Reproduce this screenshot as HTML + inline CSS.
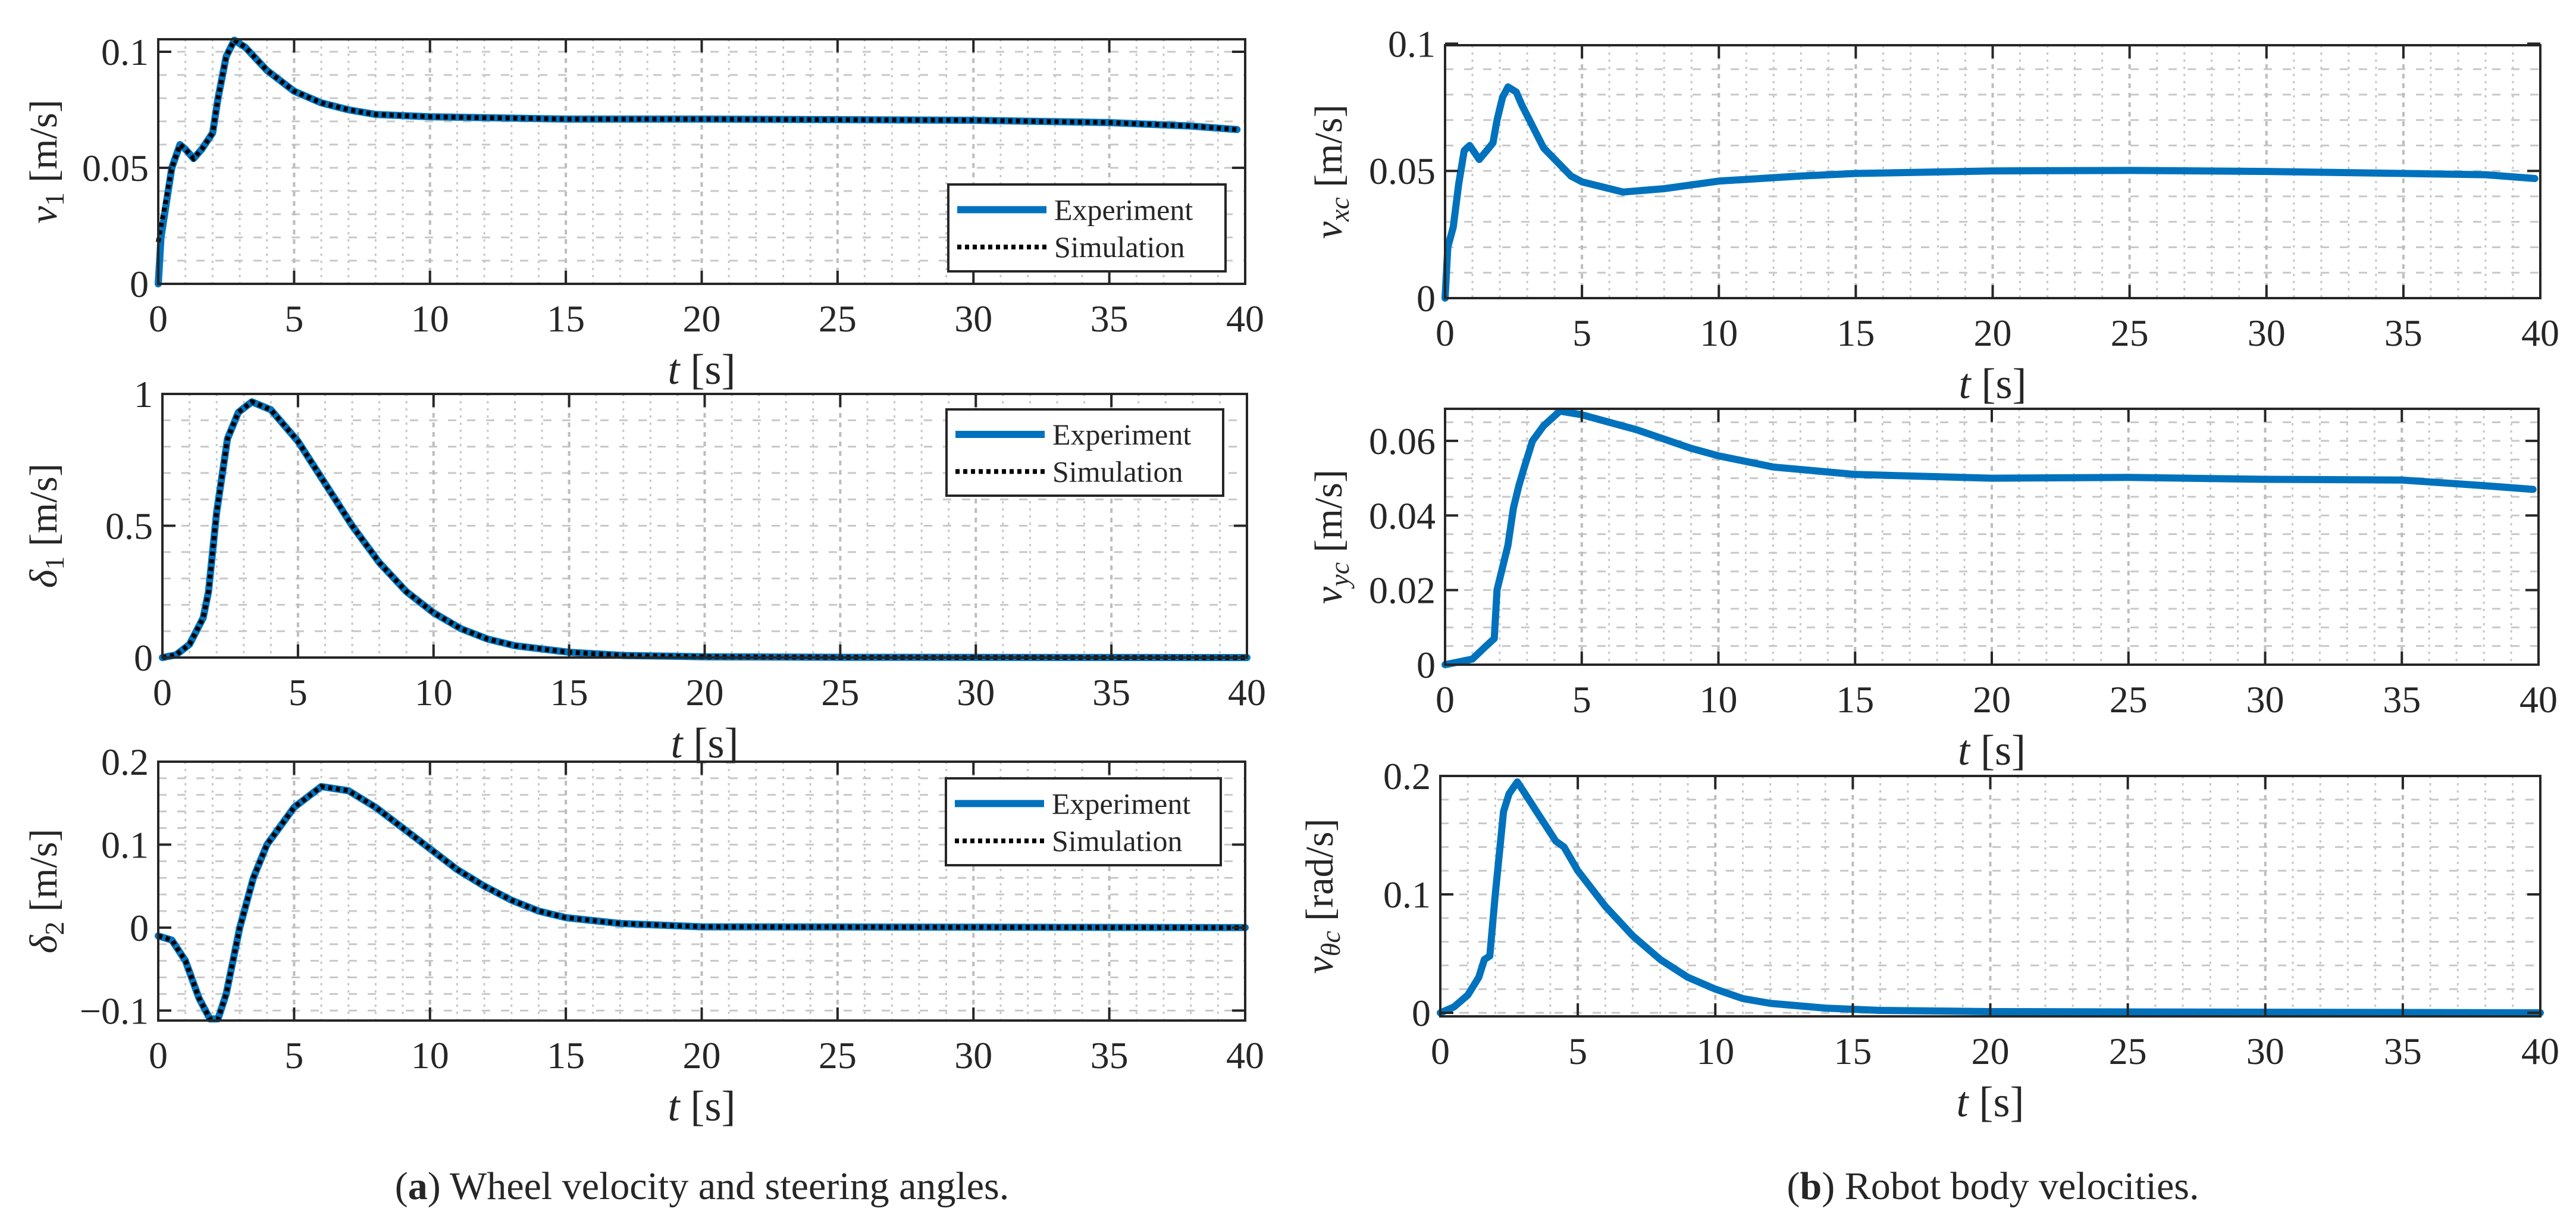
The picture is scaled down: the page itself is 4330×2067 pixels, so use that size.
<!DOCTYPE html>
<html><head><meta charset="utf-8"><style>
html,body{margin:0;padding:0;background:#fff;}
svg{display:block;}
text{font-family:"Liberation Serif",serif;fill:#262626;}
</style></head>
<body>
<svg id="fig" width="4330" height="2067" viewBox="0 0 4330 2067" xmlns="http://www.w3.org/2000/svg">
<rect width="4330" height="2067" fill="#fff"/>
<text x="1180" y="2015" font-size="66" text-anchor="middle">(<tspan font-weight="bold">a</tspan>) Wheel velocity and steering angles.</text>
<text x="3350" y="2015" font-size="66" text-anchor="middle">(<tspan font-weight="bold">b</tspan>) Robot body velocities.</text>
</svg>
<script>
// ---- data ----
const v1T   = [0,0.1,0.3,0.5,0.8,1.0,1.3,1.6,2.0,2.2,2.5,2.8,3.2,4,5,6,7,8,10,15,20,30,35,38,39.7];
const v1Exp = [0,0.02,0.035,0.05,0.06,0.058,0.054,0.058,0.065,0.08,0.098,0.105,0.102,0.092,0.083,0.078,0.075,0.073,0.072,0.071,0.071,0.0705,0.0695,0.068,0.0665];
const v1Sim = [0.018,0.025,0.037,0.05,0.06,0.058,0.054,0.058,0.065,0.08,0.098,0.105,0.102,0.092,0.083,0.078,0.075,0.073,0.072,0.071,0.071,0.0705,0.0695,0.068,0.0665];
const d1T   = [0,0.5,1,1.5,1.7,2,2.4,2.8,3.3,4,5,6,7,8,9,10,11,12,13,15,17,20,25,40];
const d1Exp = [0,0.01,0.05,0.15,0.25,0.55,0.83,0.93,0.97,0.94,0.82,0.66,0.5,0.36,0.25,0.17,0.11,0.07,0.045,0.02,0.008,0.003,0.001,0];
const d1Sim = [0,0.01,0.05,0.15,0.25,0.55,0.83,0.93,0.97,0.94,0.82,0.66,0.5,0.36,0.25,0.17,0.11,0.07,0.045,0.02,0.008,0.003,0.001,0];
const d2T   = [0,0.5,1,1.5,1.9,2.2,2.5,3,3.5,4,5,6,7,8,9,10,11,12,13,14,15,17,20,40];
const d2Exp = [-0.01,-0.015,-0.04,-0.085,-0.11,-0.11,-0.08,0,0.06,0.1,0.145,0.17,0.165,0.145,0.12,0.095,0.07,0.05,0.033,0.02,0.012,0.005,0.001,0];
const d2Sim = [-0.01,-0.015,-0.04,-0.085,-0.11,-0.11,-0.08,0,0.06,0.1,0.145,0.17,0.165,0.145,0.12,0.095,0.07,0.05,0.033,0.02,0.012,0.005,0.001,0];
const vxT   = [0,0.1,0.3,0.5,0.7,0.9,1.25,1.6,1.75,1.9,2.1,2.3,2.6,2.8,3.6,4.6,5,6.5,8,10,13,15,20,25,30,35,38,39.8];
const vxExp = [0,0.02,0.028,0.045,0.058,0.06,0.0545,0.059,0.061,0.07,0.079,0.083,0.081,0.076,0.059,0.048,0.0457,0.0417,0.043,0.046,0.048,0.049,0.05,0.0502,0.0498,0.049,0.0485,0.047];
const vyT   = [0,1,1.5,1.8,1.9,2.3,2.5,2.7,2.9,3.2,3.6,4.2,5,7,9,10,12,15,20,25,30,35,38,39.8];
const vyExp = [0,0.0015,0.005,0.007,0.02,0.032,0.042,0.048,0.053,0.06,0.064,0.068,0.067,0.063,0.058,0.056,0.053,0.051,0.05,0.0502,0.0497,0.0495,0.048,0.047];
const vtT   = [0,0.5,1,1.4,1.6,1.8,2.0,2.3,2.5,2.8,3.0,3.5,4.2,4.5,5,6,7,8,9,10,11,12,14,16,20,40];
const vtExp = [0,0.005,0.015,0.03,0.045,0.048,0.1,0.17,0.185,0.195,0.188,0.17,0.145,0.14,0.12,0.09,0.065,0.045,0.03,0.02,0.012,0.008,0.004,0.002,0.001,0];
const xTicks = [0,5,10,15,20,25,30,35,40];

const NS = "http://www.w3.org/2000/svg";
const svg = document.getElementById('fig');
function mk(tag, attrs, parent){ const e=document.createElementNS(NS,tag); for(const k in attrs) e.setAttribute(k,attrs[k]); (parent||svg).appendChild(e); return e; }

function panel(cfg){
  const g = mk('g',{});
  
  
  const L=cfg.x0,R=cfg.x1,T=cfg.y0,B=cfg.y1;
  const sx=t=>L+(t-0)/(40-0)*(R-L);
  const sy=v=>B-(v-cfg.ymin)/(cfg.ymax-cfg.ymin)*(B-T);
  for(let t=1;t<40;t++){ if(t%5===0) continue;
    const l=mk('line',{x1:sx(t),x2:sx(t),y1:T,y2:B,stroke:'#c8c8c8','stroke-width':3,'stroke-dasharray':'4 8'},g);
      }
  for(let v=Math.ceil(cfg.ymin/cfg.minor)*cfg.minor; v<cfg.ymax; v+=cfg.minor){
    const yy=sy(v); if(yy<T+1||yy>B-1) continue;
    const l=mk('line',{x1:L,x2:R,y1:yy,y2:yy,stroke:'#c8c8c8','stroke-width':3,'stroke-dasharray':'14 18'},g);
      }
  xTicks.forEach(t=>{ if(t===0||t===40) return;
    const l=mk('line',{x1:sx(t),x2:sx(t),y1:T,y2:B,stroke:'#bdbdbd','stroke-width':4,'stroke-dasharray':'8 8'},g);
      });
  const path=(T_,V_)=>T_.map((t,i)=>(i?'L':'M')+sx(t).toFixed(1)+' '+sy(V_[i]).toFixed(1)).join(' ');
  const e=mk('path',{d:path(cfg.t,cfg.exp),fill:'none',stroke:'#0072BD','stroke-width':12,'stroke-linejoin':'round','stroke-linecap':'round'},g);
   
  if(cfg.sim){
    const s=mk('path',{d:path(cfg.t,cfg.sim),fill:'none',stroke:'#000','stroke-width':8,'stroke-dasharray':'7 6'},g);
     
  }
  const bx=mk('rect',{x:L,y:T,width:R-L,height:B-T,fill:'none',stroke:'#262626','stroke-width':4},g);
   
  xTicks.forEach(t=>{
    mk('line',{x1:sx(t),x2:sx(t),y1:B,y2:B-22,stroke:'#262626','stroke-width':4},g);
    mk('line',{x1:sx(t),x2:sx(t),y1:T,y2:T+22,stroke:'#262626','stroke-width':4},g);
    const tx=mk('text',{x:sx(t),y:B+80,'font-size':64,'text-anchor':'middle'},g);
    tx.textContent=t;
     
  });
  cfg.yticks.forEach((v,i)=>{
    const yy=sy(v);
    mk('line',{x1:L,x2:L+22,y1:yy,y2:yy,stroke:'#262626','stroke-width':4},g);
    mk('line',{x1:R,x2:R-22,y1:yy,y2:yy,stroke:'#262626','stroke-width':4},g);
    const tx=mk('text',{x:L-16,y:yy+22,'font-size':64,'text-anchor':'end'},g);
    tx.textContent=cfg.ylabels[i];
     
  });
  const xl=mk('text',{x:(L+R)/2,y:B+168,'font-size':72,'text-anchor':'middle'},g);
  xl.innerHTML='<tspan font-style="italic">t</tspan> [s]';
   
  const cy=(T+B)/2;
  const yl=mk('text',{x:0,y:0,'font-size':66,'text-anchor':'middle',transform:`translate(${cfg.ylx},${cy}) rotate(-90)`},g);
  yl.innerHTML=cfg.ylab;
   
  if(cfg.legend){
    const [lx,ly,lw,lh]=cfg.legend;
    const lg=mk('g',{},g);
     
    mk('rect',{x:lx,y:ly,width:lw,height:lh,fill:'#fff',stroke:'#262626','stroke-width':4},lg);
    mk('line',{x1:lx+15,x2:lx+165,y1:ly+lh*0.29,y2:ly+lh*0.29,stroke:'#0072BD','stroke-width':12},lg);
    mk('line',{x1:lx+15,x2:lx+165,y1:ly+lh*0.72,y2:ly+lh*0.72,stroke:'#000','stroke-width':8,'stroke-dasharray':'7 6'},lg);
    const a=mk('text',{x:lx+178,y:ly+lh*0.29+17,'font-size':50},lg); a.textContent='Experiment';
     
    const b=mk('text',{x:lx+178,y:ly+lh*0.72+17,'font-size':50},lg); b.textContent='Simulation';
     
  }
}

panel({name:'panel-v1',x0:266,x1:2093,y0:66,y1:477,ymin:0,ymax:0.1054,minor:0.01,
  yticks:[0,0.05,0.1],ylabels:['0','0.05','0.1'],t:v1T,exp:v1Exp,sim:v1Sim,ylx:95,
  ylab:'<tspan font-style="italic">v</tspan><tspan font-size="46" dy="12">1</tspan><tspan dy="-12"> [m/s]</tspan>',legend:[1594,310,466,146]});
panel({name:'panel-delta1',x0:273,x1:2096,y0:662,y1:1105,ymin:0,ymax:1,minor:0.1,
  yticks:[0,0.5,1],ylabels:['0','0.5','1'],t:d1T,exp:d1Exp,sim:d1Sim,ylx:95,
  ylab:'<tspan font-style="italic">δ</tspan><tspan font-size="46" dy="12">1</tspan><tspan dy="-12"> [m/s]</tspan>',legend:[1591,688,465,145]});
panel({name:'panel-delta2',x0:266,x1:2093,y0:1280,y1:1715,ymin:-0.112,ymax:0.2,minor:0.02,
  yticks:[-0.1,0,0.1,0.2],ylabels:['−0.1','0','0.1','0.2'],t:d2T,exp:d2Exp,sim:d2Sim,ylx:95,
  ylab:'<tspan font-style="italic">δ</tspan><tspan font-size="46" dy="12">2</tspan><tspan dy="-12"> [m/s]</tspan>',legend:[1590,1308,462,146]});
panel({name:'panel-vxc',x0:2429,x1:4270,y0:76,y1:501,ymin:0,ymax:0.0994,minor:0.01,
  yticks:[0,0.05,0.1],ylabels:['0','0.05','0.1'],t:vxT,exp:vxExp,ylx:2255,
  ylab:'<tspan font-style="italic">v</tspan><tspan font-size="46" font-style="italic" dy="12">xc</tspan><tspan dy="-12"> [m/s]</tspan>'});
panel({name:'panel-vyc',x0:2429,x1:4267,y0:687,y1:1117,ymin:0,ymax:0.0686,minor:0.005,
  yticks:[0,0.02,0.04,0.06],ylabels:['0','0.02','0.04','0.06'],t:vyT,exp:vyExp,ylx:2255,
  ylab:'<tspan font-style="italic">v</tspan><tspan font-size="46" font-style="italic" dy="12">yc</tspan><tspan dy="-12"> [m/s]</tspan>'});
panel({name:'panel-vthetac',x0:2421,x1:4270,y0:1304,y1:1708,ymin:-0.003,ymax:0.2,minor:0.02,
  yticks:[0,0.1,0.2],ylabels:['0','0.1','0.2'],t:vtT,exp:vtExp,ylx:2240,
  ylab:'<tspan font-style="italic">v</tspan><tspan font-size="46" font-style="italic" dy="12">θc</tspan><tspan dy="-12"> [rad/s]</tspan>'});
</script>
</body></html>
